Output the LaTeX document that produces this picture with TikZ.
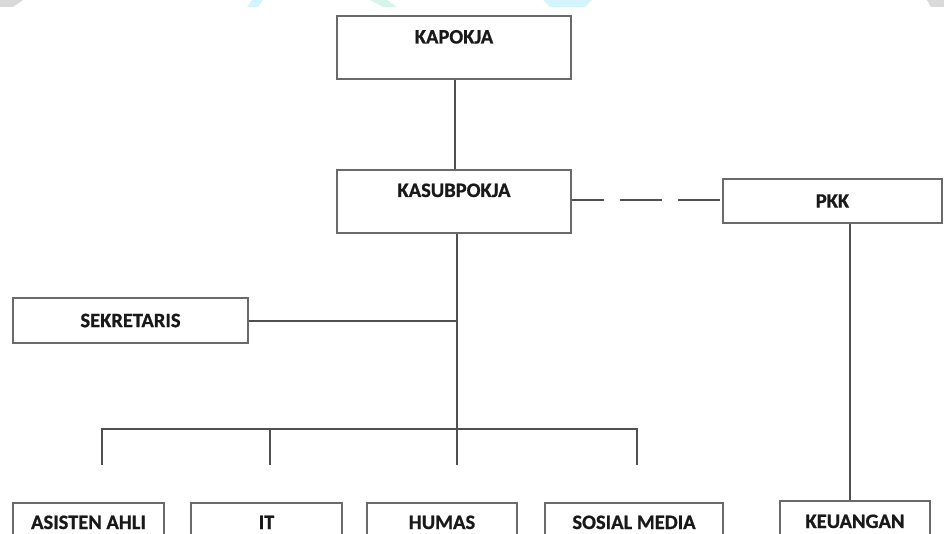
\documentclass[tikz,border=0pt]{standalone}
\usepackage{fontspec}
\setmainfont{Carlito}[BoldFeatures={FakeBold=0.8}]
\definecolor{boxline}{HTML}{6A6A6A}
\definecolor{connline}{HTML}{505050}
\definecolor{decgray}{HTML}{D9D9D9}
\definecolor{deccyan}{HTML}{D3F4FD}
\definecolor{decmint}{HTML}{D5F5EC}
\begin{document}
\begin{tikzpicture}[x=1pt,y=-1pt,
  orgbox/.style={draw=boxline, line width=1.3pt, rectangle, inner sep=0pt, fill=white},
  lbl/.style={font=\fontsize{20.5}{24}\selectfont\bfseries, text=black!90},
  conn/.style={draw=connline, line width=1.2pt},
  dashconn/.style={conn, dash pattern=on 42pt off 16pt, dash phase=10pt}]
\useasboundingbox (0,0) rectangle (944,534);
\clip (0,0) rectangle (944,534);
% faint top decorations
\fill[decgray] (0,0) -- (23,0) -- (13,7) -- (0,7) -- cycle;
\fill[deccyan] (252,0) -- (263,0) -- (258,7) -- (247,7) -- cycle;
\fill[decmint] (370,0) -- (387,0) -- (397,7) -- (383,7) -- cycle;
\fill[deccyan] (543,0) -- (592,0) -- (585,7) -- (550,7) -- cycle;
\fill[decgray] (927,0) -- (944,0) -- (944,7) -- (931,7) -- cycle;
% boxes
\node[orgbox, minimum width=234pt, minimum height=63pt,
  label={[lbl,anchor=center,yshift=-21.5pt]north:KAPOKJA}] (kapokja) at (454,47.5) {};
\node[orgbox, minimum width=234pt, minimum height=63pt,
  label={[lbl,anchor=center,yshift=-21pt]north:KASUBPOKJA}] (kasub) at (454,201.5) {};
\node[orgbox, lbl, minimum width=219pt, minimum height=44pt] (pkk) at (832.5,201) {PKK};
\node[orgbox, lbl, minimum width=235pt, minimum height=45pt] (sekr) at (130.5,320.5) {SEKRETARIS};
\node[orgbox, minimum width=151pt, minimum height=45pt,
  label={[lbl,anchor=center,yshift=-20pt]north:ASISTEN AHLI}] (asisten) at (88.5,525.5) {};
\node[orgbox, minimum width=151pt, minimum height=45pt,
  label={[lbl,anchor=center,yshift=-20pt]north:IT}] (it) at (266.5,525.5) {};
\node[orgbox, minimum width=150pt, minimum height=45pt,
  label={[lbl,anchor=center,yshift=-20pt]north:HUMAS}] (humas) at (442,525.5) {};
\node[orgbox, minimum width=178pt, minimum height=45pt,
  label={[lbl,anchor=center,yshift=-20pt]north:SOSIAL MEDIA}] (sosmed) at (634,525.5) {};
\node[orgbox, minimum width=150pt, minimum height=45pt,
  label={[lbl,anchor=center,yshift=-21pt]north:KEUANGAN}] (keu) at (855,523.5) {};
% coordinates
\coordinate (join) at (457,321);
\coordinate (bar) at (457,429);
\coordinate (barL) at (102,429);
\coordinate (barR) at (637,429);
\coordinate (dropA) at (102,465);
\coordinate (dropB) at (270,465);
\coordinate (dropC) at (457,465);
\coordinate (dropD) at (637,465);
% connectors
\draw[conn] (kapokja.south -| 455,0) -- (kasub.north -| 455,0);
\draw[dashconn] (kasub.east |- 0,200) -- (pkk.west |- 0,200);
\draw[conn] (kasub.south -| bar) -- (bar);
\draw[conn] (sekr.east |- join) -- (join);
\draw[conn] (dropA) -- (barL) -- (barR) -- (dropD);
\draw[conn] (dropB) -- (dropB |- barL);
\draw[conn] (bar) -- (dropC);
\draw[conn] (pkk.south -| 850,0) -- (keu.north -| 850,0);
\end{tikzpicture}
\end{document}
